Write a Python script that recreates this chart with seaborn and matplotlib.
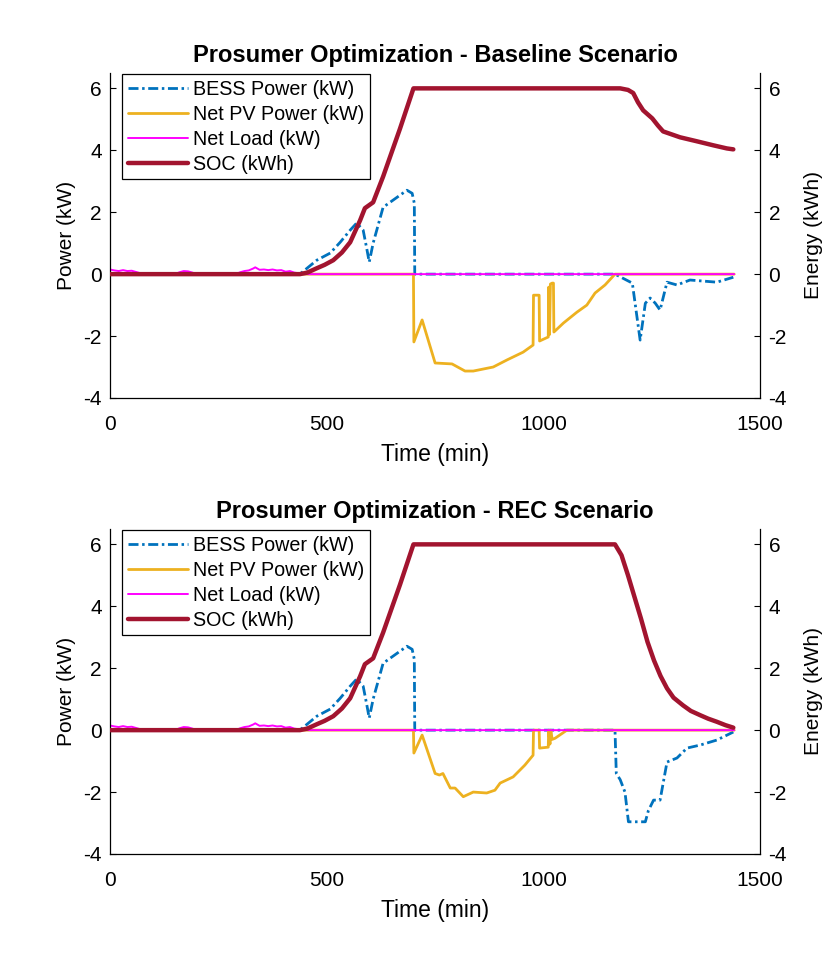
import numpy as np
import pandas as pd
import matplotlib
matplotlib.use("Agg")
import matplotlib.pyplot as plt
import seaborn as sns

# ---------------- data ----------------
time_ticks = [0, 500, 1000, 1500]
y_ticks = [-4, -2, 0, 2, 4, 6]

# BESS power, baseline scenario
bess_base_t = [0, 438, 477, 508, 531, 554, 569, 584, 593, 598, 607, 630, 646, 669, 685, 697, 702, 703,
               1165, 1205, 1223, 1235, 1246, 1258, 1269, 1285, 1308, 1338, 1400, 1438]
bess_base_v = [0, 0, 0.45, 0.68, 1.03, 1.42, 1.65, 1.42, 0.77, 0.39, 1.0, 2.16, 2.32, 2.55, 2.71, 2.61, 2.29, 0,
               0, -0.29, -2.13, -0.94, -0.77, -0.94, -1.16, -0.26, -0.35, -0.19, -0.26, -0.10]

# BESS power, REC scenario
bess_rec_t = [0, 438, 477, 508, 531, 554, 569, 584, 593, 598, 607, 630, 646, 669, 685, 697, 702, 703,
              1165, 1168, 1177, 1188, 1196, 1235, 1242, 1254, 1269, 1285, 1308, 1331, 1362, 1400, 1438]
bess_rec_v = [0, 0, 0.45, 0.68, 1.03, 1.42, 1.65, 1.42, 0.77, 0.39, 1.0, 2.16, 2.32, 2.55, 2.71, 2.61, 2.29, 0,
              0, -1.40, -1.60, -2.00, -2.96, -2.96, -2.60, -2.26, -2.26, -1.03, -0.90, -0.58, -0.48, -0.32, -0.06]

# Net PV power, baseline scenario
pv_base_t = [0, 700, 701, 720, 750, 789, 819, 838, 884, 916, 953, 976, 977, 990, 991, 1011, 1012, 1014,
             1016, 1020, 1023, 1024, 1046, 1077, 1100, 1119, 1142, 1165, 1440]
pv_base_v = [0, 0, -2.19, -1.48, -2.87, -2.90, -3.13, -3.13, -3.00, -2.77, -2.52, -2.29, -0.68, -0.68, -2.16,
             -2.03, -0.42, -1.95, -0.32, -0.29, -0.29, -1.87, -1.58, -1.23, -1.00, -0.61, -0.35, 0, 0]

# Net PV power, REC scenario
pv_rec_t = [0, 700, 701, 720, 750, 760, 768, 785, 796, 815, 838, 869, 888, 900, 930, 957, 976, 977, 990, 991,
            1011, 1012, 1015, 1017, 1020, 1027, 1054, 1440]
pv_rec_v = [0, 0, -0.74, -0.16, -1.40, -1.45, -1.40, -1.87, -1.87, -2.15, -2.00, -2.03, -1.94, -1.71, -1.51,
            -1.13, -0.81, 0, 0, -0.58, -0.55, 0, -0.45, 0, -0.30, -0.26, 0, 0]

# Net load (same in both scenarios)
load_t = [0, 10, 20, 30, 40, 50, 60, 70, 80, 150, 160, 170, 180, 190, 200, 290, 300, 310, 320, 330, 335,
          345, 355, 365, 375, 385, 395, 405, 415, 425, 435, 445, 1440]
load_v = [0.15, 0.12, 0.10, 0.13, 0.10, 0.11, 0.07, 0.03, 0, 0, 0.06, 0.10, 0.09, 0.05, 0, 0, 0.06, 0.10,
          0.12, 0.18, 0.22, 0.14, 0.15, 0.13, 0.15, 0.12, 0.13, 0.08, 0.10, 0.05, 0.03, 0, 0]

# State of charge, baseline scenario
soc_base_t = [0, 438, 455, 477, 495, 515, 535, 554, 577, 588, 607, 630, 669, 700, 1177, 1195, 1207, 1218,
              1230, 1251, 1264, 1276, 1315, 1354, 1392, 1423, 1438]
soc_base_v = [0, 0, 0.05, 0.19, 0.30, 0.45, 0.70, 1.03, 1.74, 2.13, 2.32, 3.15, 4.70, 6.0, 6.0, 5.95, 5.85,
              5.55, 5.29, 5.03, 4.80, 4.61, 4.42, 4.29, 4.16, 4.06, 4.03]

# State of charge, REC scenario
soc_rec_t = [0, 438, 455, 477, 495, 515, 535, 554, 577, 588, 607, 630, 669, 700, 1165, 1180, 1195, 1210,
             1225, 1240, 1255, 1270, 1285, 1300, 1322, 1340, 1362, 1380, 1400, 1420, 1438]
soc_rec_v = [0, 0, 0.05, 0.19, 0.30, 0.45, 0.70, 1.03, 1.74, 2.13, 2.32, 3.15, 4.70, 6.0, 6.0, 5.65, 5.0,
             4.3, 3.6, 2.85, 2.25, 1.75, 1.35, 1.05, 0.80, 0.62, 0.48, 0.37, 0.27, 0.16, 0.08]

titles = ["Prosumer Optimization - Baseline Scenario", "Prosumer Optimization - REC Scenario"]
labels = ["BESS Power (kW)", "Net PV Power (kW)", "Net Load (kW)", "SOC (kWh)"]

# ---------------- style ----------------
sns.set_style("white")
plt.rcParams["font.family"] = ["Liberation Sans", "DejaVu Sans"]
plt.rcParams["xtick.direction"] = "in"
plt.rcParams["ytick.direction"] = "in"
plt.rcParams["text.color"] = "black"
plt.rcParams["axes.labelcolor"] = "black"

C_BESS = "#0072BD"
C_PV = "#EDB120"
C_LOAD = "#FF00FF"
C_SOC = "#A2142F"

fig = plt.figure(figsize=(8.4, 9.59), dpi=100)
positions = [[0.131, 0.585, 0.774, 0.339], [0.131, 0.1095, 0.774, 0.339]]
scen = [
    (bess_base_t, bess_base_v, pv_base_t, pv_base_v, soc_base_t, soc_base_v),
    (bess_rec_t, bess_rec_v, pv_rec_t, pv_rec_v, soc_rec_t, soc_rec_v),
]

for k in range(2):
    bt, bv, pt, pv, st, sv = scen[k]
    ax = fig.add_axes(positions[k])
    axr = ax.twinx()

    sns.lineplot(x=bt, y=bv, ax=ax, estimator=None, sort=False, color=C_BESS, linewidth=2.0,
                 linestyle=(0, (3.6, 1.3, 0.9, 1.3)), label=labels[0])
    sns.lineplot(x=pt, y=pv, ax=ax, estimator=None, sort=False, color=C_PV, linewidth=2.0,
                 label=labels[1])
    sns.lineplot(x=load_t, y=load_v, ax=ax, estimator=None, sort=False, color=C_LOAD, linewidth=1.4,
                 label=labels[2])
    sns.lineplot(x=st, y=sv, ax=axr, estimator=None, sort=False, color=C_SOC, linewidth=3.2,
                 label=labels[3])

    for a in (ax, axr):
        if a.get_legend() is not None:
            a.get_legend().remove()
        a.set_xlim(0, 1500)
        a.set_ylim(-4, 6.5)
        a.set_yticks(y_ticks)
        a.set_yticklabels([str(v) for v in y_ticks])
        a.tick_params(axis="both", labelsize=15, length=4, width=0.8, colors="black")
        a.tick_params(axis="y", pad=6)
        a.tick_params(axis="x", pad=12)
        for sp in a.spines.values():
            sp.set_color("black")
            sp.set_linewidth(0.9)
        a.spines["top"].set_visible(False)

    ax.set_xticks(time_ticks)
    ax.set_xticklabels([str(v) for v in time_ticks])
    ax.spines["right"].set_visible(False)
    axr.spines["left"].set_visible(False)
    axr.spines["bottom"].set_visible(False)
    axr.tick_params(axis="x", bottom=False, labelbottom=False)

    ax.set_xlabel("Time (min)", fontsize=16.5, labelpad=7)
    ax.set_ylabel("Power (kW)", fontsize=15, labelpad=5)
    axr.set_ylabel("Energy (kWh)", fontsize=15, labelpad=12)
    ax.set_title(titles[k], fontsize=17, fontweight="bold", pad=8, color="black")

    handles = ax.get_lines()[:3] + axr.get_lines()[:1]
    leg = axr.legend(handles, labels, loc="upper left", bbox_to_anchor=(0.018, 0.997),
                     fontsize=14.2, frameon=True, fancybox=False, framealpha=1, edgecolor="black",
                     handlelength=3.05, handletextpad=0.25, labelspacing=0.3, borderpad=0.3,
                     borderaxespad=0.0)
    leg.get_frame().set_linewidth(0.9)

fig.savefig("out.png", dpi=100)
